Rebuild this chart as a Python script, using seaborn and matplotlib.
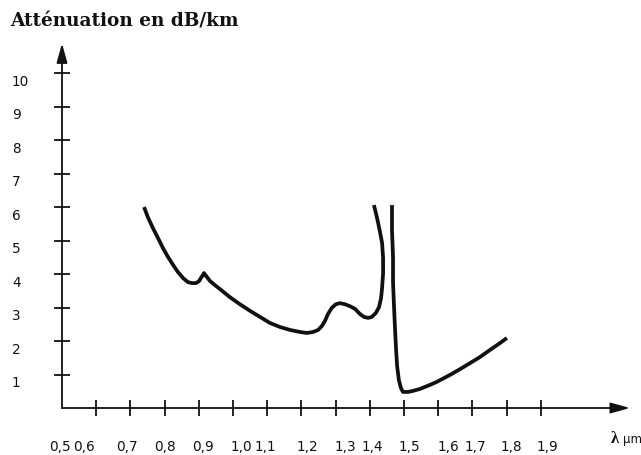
import numpy as np
import pandas as pd
import seaborn as sns
import matplotlib.pyplot as plt
from matplotlib.transforms import ScaledTranslation

# ---- data ----
seg1_wavelength = [0.740, 0.751, 0.766, 0.781, 0.795, 0.810, 0.825, 0.839, 0.854, 0.868,
                   0.880, 0.892, 0.901, 0.906, 0.912, 0.915, 0.924, 0.933, 0.947, 0.962,
                   0.991, 1.020, 1.050, 1.079, 1.108, 1.137, 1.167, 1.196, 1.216, 1.234,
                   1.249, 1.260, 1.269, 1.278, 1.289, 1.301, 1.313, 1.327, 1.342, 1.357,
                   1.371, 1.383, 1.395, 1.406, 1.418, 1.427, 1.433, 1.436, 1.439, 1.439,
                   1.436, 1.430, 1.424, 1.418, 1.412]
seg1_attenuation = [6.00, 5.70, 5.37, 5.07, 4.78, 4.51, 4.27, 4.06, 3.88, 3.76,
                    3.73, 3.73, 3.79, 3.88, 3.97, 4.03, 3.91, 3.79, 3.67, 3.55,
                    3.31, 3.10, 2.90, 2.72, 2.54, 2.42, 2.33, 2.27, 2.24, 2.27,
                    2.33, 2.45, 2.60, 2.81, 2.99, 3.10, 3.13, 3.10, 3.04, 2.96,
                    2.81, 2.72, 2.69, 2.72, 2.84, 3.01, 3.28, 3.58, 4.03, 4.48,
                    4.93, 5.25, 5.55, 5.82, 6.06]

seg2_wavelength = [1.465, 1.465, 1.468, 1.468, 1.471, 1.474, 1.477, 1.480, 1.485, 1.491,
                   1.497, 1.512, 1.526, 1.547, 1.576, 1.596, 1.635, 1.664, 1.693, 1.722,
                   1.751, 1.781, 1.801]
seg2_attenuation = [6.06, 5.31, 4.51, 3.76, 3.01, 2.33, 1.73, 1.25, 0.84, 0.60,
                    0.48, 0.48, 0.51, 0.57, 0.69, 0.78, 0.99, 1.16, 1.34, 1.52,
                    1.73, 1.94, 2.09]

x_ticks = [0.5, 0.6, 0.7, 0.8, 0.9, 1.0, 1.1, 1.2, 1.3, 1.4, 1.5, 1.6, 1.7, 1.8, 1.9]
x_tick_labels = ["0,5", "0,6", "0,7", "0,8", "0,9", "1,0", "1,1", "1,2", "1,3", "1,4",
                 "1,5", "1,6", "1,7", "1,8", "1,9"]
y_ticks = [1, 2, 3, 4, 5, 6, 7, 8, 9, 10]
y_tick_labels = ["1", "2", "3", "4", "5", "6", "7", "8", "9", "10"]

title_text = "Atténuation en dB/km"
unit_symbol = "λ"
unit_text = "µm"

# ---- layout constants (pixels) ----
W, H = 641, 455
x_label_shift_px = [-2, -12, -3, 0, 4, 8, -2, 6, 10, 3, 5, 10, 3, 5, 7]

sns.set_theme(style="white")
plt.rcParams['font.family'] = ['DejaVu Sans']

fig = plt.figure(figsize=(W / 100, H / 100), dpi=100)
fig.patch.set_facecolor("white")
ax = fig.add_axes([62 / W, 47 / H, 568 / W, 361 / H])
ax.set_facecolor("white")

df1 = pd.DataFrame({"wavelength": seg1_wavelength, "attenuation": seg1_attenuation})
df2 = pd.DataFrame({"wavelength": seg2_wavelength, "attenuation": seg2_attenuation})
for df in (df1, df2):
    sns.lineplot(data=df, x="wavelength", y="attenuation", sort=False, estimator=None,
                 color="#111111", linewidth=2.7, ax=ax, solid_capstyle="butt",
                 solid_joinstyle="round")

ax.set_xlim(0.5, 2.161)
ax.set_ylim(0, 10.78)
ax.set_xlabel("")
ax.set_ylabel("")
for s in ax.spines.values():
    s.set_visible(False)

# axes with arrows
arrow = dict(arrowstyle="-|>,head_length=0.9,head_width=0.25", color="#111111",
             lw=1.3, shrinkA=0, shrinkB=0, mutation_scale=13)
ax.annotate("", xy=(1, 0), xytext=(0, 0), xycoords="axes fraction", arrowprops=arrow)
ax.annotate("", xy=(0, 1.01), xytext=(0, 0), xycoords="axes fraction", arrowprops=arrow)

ax.xaxis.remove_overlapping_locs = False
ax.yaxis.remove_overlapping_locs = False

# labels (major, no tick line)
ax.set_xticks(x_ticks)
ax.set_xticklabels(x_tick_labels)
ax.set_yticks(y_ticks)
ax.set_yticklabels(y_tick_labels)
ax.tick_params(axis="x", which="major", length=0, pad=23, labelsize=9.8, labelcolor="#111111")
ax.tick_params(axis="y", which="major", length=0, pad=36, labelsize=9.8, labelcolor="#111111")

# tick marks (minor, crossing axis)
ax.set_xticks(x_ticks[1:], minor=True)
ax.set_yticks(y_ticks, minor=True)
ax.tick_params(which="minor", direction="inout", length=12, width=1.3, color="#111111",
               bottom=True, left=True, labelbottom=False, labelleft=False)

for lab in ax.get_yticklabels():
    lab.set_horizontalalignment("left")
    lab.set_transform(lab.get_transform() + ScaledTranslation(0, -7 / 100, fig.dpi_scale_trans))
for lab, dx in zip(ax.get_xticklabels(), x_label_shift_px):
    lab.set_transform(lab.get_transform() + ScaledTranslation(dx / 100, 0, fig.dpi_scale_trans))

fig.text(10 / W, 1 - 22 / H, title_text, fontfamily="DejaVu Serif", fontweight="bold",
         fontsize=13.3, va="center", ha="left", color="#111111")
fig.text(611 / W, 1 - 439 / H, unit_symbol, fontfamily="Liberation Serif", fontweight="bold",
         fontsize=12, va="center", ha="left", color="#111111")
fig.text(623 / W, 1 - 440 / H, unit_text, fontsize=8.5, va="center", ha="left", color="#111111")

fig.savefig("out.png", dpi=100, facecolor="white")
